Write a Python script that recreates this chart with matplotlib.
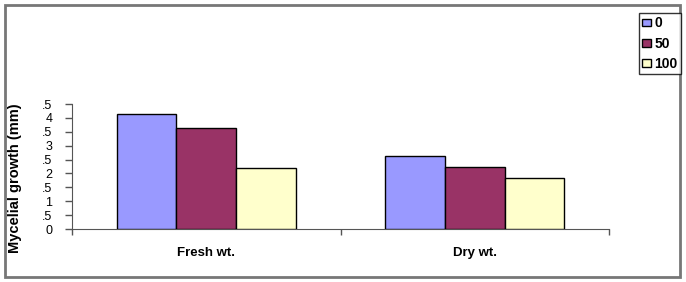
import matplotlib.pyplot as plt
import matplotlib.patches as patches
import numpy as np

plt.rcParams['font.family'] = ['Liberation Sans', 'DejaVu Sans']

categories = ["Fresh wt.", "Dry wt."]
series_names = ["0", "50", "100"]
values_0 = [4.14, 2.64]
values_50 = [3.64, 2.24]
values_100 = [2.20, 1.82]
ytick_values = [0, 0.5, 1, 1.5, 2, 2.5, 3, 3.5, 4, 4.5]
ytick_labels = ["0", ".5", "1", ".5", "2", ".5", "3", ".5", "4", ".5"]

COLORS = ["#9999FF", "#993366", "#FFFFCC"]
BAR_W = 0.222


def main():
    fig = plt.figure(figsize=(6.86, 2.82), dpi=100)
    ax = fig.add_axes([72 / 686, 53 / 282, 537 / 686, 125 / 282])

    x = np.arange(len(categories))
    series = [values_0, values_50, values_100]
    for i, (name, vals) in enumerate(zip(series_names, series)):
        ax.bar(x + (i - 1) * BAR_W, vals, BAR_W, color=COLORS[i],
               edgecolor="black", linewidth=1.0, label=name, zorder=3)

    ax.set_xlim(-0.5, 1.5)
    ax.set_ylim(0, 4.5)

    ax.set_yticks(ytick_values)
    ax.set_yticklabels(ytick_labels, fontsize=9)
    ax.tick_params(axis="y", direction="out", length=5, width=1, pad=9)

    ax.set_xticks([-0.5, 0.5, 1.5])
    ax.set_xticklabels([])
    ax.tick_params(axis="x", direction="out", length=4, width=1)
    for xi, cat in zip(x, categories):
        ax.text(xi, -0.85, cat, ha="center", va="center",
                fontsize=9.5, fontweight="bold")

    for s in ["top", "right"]:
        ax.spines[s].set_visible(False)
    ax.spines["left"].set_color("#555555")
    ax.spines["bottom"].set_color("#555555")
    ax.tick_params(colors="#555555", labelcolor="black")

    fig.text(15 / 686, 1 - 178 / 282, "Mycelial growth (mm)", rotation=90,
             ha="center", va="center", fontsize=10.5, fontweight="bold")

    leg = fig.legend(loc="upper right", bbox_to_anchor=(681 / 686, 1 - 13 / 282),
                     frameon=True, fancybox=False, handlelength=0.6,
                     handleheight=0.45, handletextpad=0.25, borderpad=0.25,
                     borderaxespad=0, labelspacing=0.45,
                     prop={"size": 10, "weight": "bold"})
    leg.get_frame().set_edgecolor("black")
    leg.get_frame().set_linewidth(1.0)

    frame = patches.Rectangle((4.5 / 686, 5 / 282), 675.5 / 686, 272 / 282,
                              transform=fig.transFigure, fill=False,
                              edgecolor="#777777", linewidth=2)
    fig.patches.append(frame)

    fig.savefig("out.png", dpi=100)


if __name__ == "__main__":
    main()
